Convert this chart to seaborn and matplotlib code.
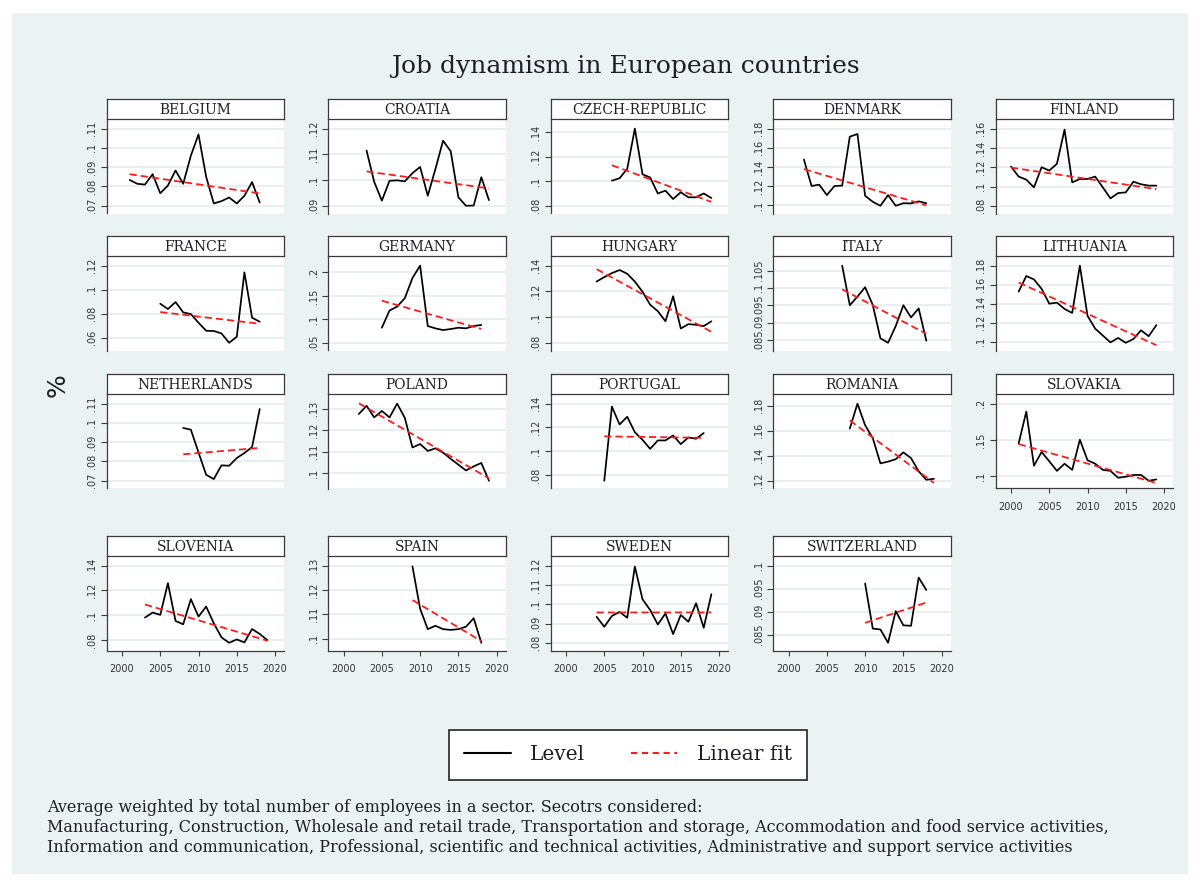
import numpy as np
import pandas as pd
import matplotlib
matplotlib.use("Agg")
import matplotlib.pyplot as plt
from matplotlib.patches import Rectangle
from matplotlib.lines import Line2D
import seaborn as sns

# ---------------------------------------------------------------- data
countries = ["BELGIUM", "CROATIA", "CZECH-REPUBLIC", "DENMARK", "FINLAND",
             "FRANCE", "GERMANY", "HUNGARY", "ITALY", "LITHUANIA",
             "NETHERLANDS", "POLAND", "PORTUGAL", "ROMANIA", "SLOVAKIA",
             "SLOVENIA", "SPAIN", "SWEDEN", "SWITZERLAND"]

first_year = [2001, 2003, 2006, 2002, 2000,
              2005, 2005, 2004, 2007, 2001,
              2008, 2002, 2005, 2008, 2001,
              2003, 2009, 2004, 2010]

belgium = [.0834, .0814, .0810, .0864, .0765, .0805, .0883, .0814, .0960, .1070,
           .0850, .0712, .0724, .0743, .0712, .0752, .0823, .0717]
croatia = [.1115, .0993, .0920, .0997, .0999, .0995, .1027, .1051, .0939, .1043,
           .1153, .1112, .0933, .0900, .0901, .1011, .0922]
czech_republic = [.1004, .1024, .1100, .1427, .1056, .1030, .0900, .0923, .0855, .0910,
                  .0869, .0869, .0900, .0863]
denmark = [.1477, .1200, .1214, .1105, .1200, .1204, .1716, .1744, .1098, .1035,
           .0993, .1105, .0993, .1020, .1018, .1039, .1020]
finland = [.1207, .1103, .1071, .0991, .1200, .1165, .1235, .1590, .1043, .1078,
           .1078, .1103, .0991, .0877, .0932, .0939, .1050, .1023, .1009, .1009]
france = [.0883, .0839, .0897, .0811, .0797, .0725, .0658, .0656, .0636, .0558,
          .0608, .1144, .0767, .0733]
germany = [.0821, .1186, .1271, .1450, .1879, .2143, .0857, .0807, .0771, .0793,
           .0821, .0807, .0857, .0879]
hungary = [.1276, .1311, .1342, .1366, .1337, .1276, .1197, .1096, .1046, .0967,
           .1162, .0911, .0945, .0940, .0930, .0967]
italy = [.1064, .0950, .0975, .1002, .0951, .0855, .0842, .0890, .0950, .0915,
         .0941, .0848]
lithuania = [.1527, .1691, .1655, .1556, .1400, .1411, .1345, .1302, .1800, .1273,
             .1138, .1065, .0993, .1040, .0989, .1029, .1120, .1058, .1175]
netherlands = [.0974, .0965, .0847, .0731, .0709, .0780, .0778, .0818, .0844, .0875,
               .1072]
poland = [.1276, .1314, .1260, .1290, .1260, .1324, .1258, .1120, .1136, .1104,
          .1116, .1096, .1067, .1040, .1013, .1032, .1048, .0965]
portugal = [.0752, .1375, .1225, .1290, .1160, .1096, .1020, .1091, .1091, .1133,
            .1060, .1116, .1105, .1153]
romania = [.1617, .1816, .1644, .1541, .1339, .1353, .1372, .1427, .1381, .1276,
           .1208, .1216]
slovakia = [.1450, .1891, .1142, .1332, .1204, .1071, .1170, .1085, .1502, .1218,
            .1170, .1085, .1071, .0976, .0990, .1014, .1014, .0934, .0953]
slovenia = [.0981, .1022, .1003, .1259, .0954, .0927, .1130, .0989, .1070, .0935,
            .0822, .0778, .0805, .0781, .0889, .0849, .0800]
spain = [.1297, .1123, .1039, .1053, .1039, .1036, .1039, .1049, .1084, .0983]
sweden = [.0935, .0883, .0939, .0960, .0930, .1195, .1026, .0970, .0895, .0952,
          .0845, .0944, .0909, .1005, .0878, .1052]
switzerland = [.0961, .0863, .0861, .0832, .0901, .0870, .0869, .0974, .0947]

series = [belgium, croatia, czech_republic, denmark, finland,
          france, germany, hungary, italy, lithuania,
          netherlands, poland, portugal, romania, slovakia,
          slovenia, spain, sweden, switzerland]

y_ticks = [[.07, .08, .09, .10, .11], [.09, .10, .11, .12], [.08, .10, .12, .14],
           [.10, .12, .14, .16, .18], [.08, .10, .12, .14, .16],
           [.06, .08, .10, .12], [.05, .10, .15, .20], [.08, .10, .12, .14],
           [.085, .09, .095, .10, .105], [.10, .12, .14, .16, .18],
           [.07, .08, .09, .10, .11], [.10, .11, .12, .13], [.08, .10, .12, .14],
           [.12, .14, .16, .18], [.10, .15, .20],
           [.08, .10, .12, .14], [.10, .11, .12, .13], [.08, .09, .10, .11, .12],
           [.085, .09, .095, .10]]

x_ticks = [2000, 2005, 2010, 2015, 2020]

title = "Job dynamism in European countries"
y_label = "%"
legend_labels = ["Level", "Linear fit"]
note_lines = [
    "Average weighted by total number of employees in a sector. Secotrs considered:",
    "Manufacturing, Construction, Wholesale and retail trade, Transportation and storage, "
    "Accommodation and food service activities,",
    "Information and communication, Professional, scientific and technical activities, "
    "Administrative and support service activities",
]

# ---------------------------------------------------------------- style
sns.set_style("white")
plt.rcParams["font.family"] = ["DejaVu Sans"]

W, H = 1200, 886
BG = "#EAF2F3"
GRID = "#E6EEF0"
AXIS = "#3c3c3c"
TEXT = "#1e1e28"
SERIF = "DejaVu Serif"

COL_LEFT = [106.7, 328.3, 550.7, 773.3, 995.7]
ROW_TOP = [119, 256, 394, 556]
PW, PH = 177.5, 94.5
STRIP = 20


def px_rect(x0, y0, w, h):
    return [x0 / W, 1 - (y0 + h) / H, w / W, h / H]


def tick_text(v):
    s = f"{v:g}"
    return s[1:] if s.startswith("0.") else s


fig = plt.figure(figsize=(W / 100, H / 100), dpi=100)
fig.patch.set_facecolor("white")
fig.add_artist(Rectangle((12 / W, 1 - 874 / H), 1176 / W, 861 / H,
                         transform=fig.transFigure, facecolor=BG,
                         edgecolor="none", zorder=-10))

n = len(countries)
for i, (name, start, vals, ticks) in enumerate(zip(countries, first_year, series, y_ticks)):
    r, c = divmod(i, 5)
    years = np.arange(start, start + len(vals))
    df = pd.DataFrame({"year": years, "value": vals})

    ax = fig.add_axes(px_rect(COL_LEFT[c], ROW_TOP[r], PW, PH))
    ax.set_facecolor("white")
    sns.lineplot(data=df, x="year", y="value", ax=ax, color="black",
                 lw=1.25, errorbar=None, estimator=None, zorder=3)
    sns.regplot(data=df, x="year", y="value", ax=ax, scatter=False, ci=None,
                truncate=True,
                line_kws=dict(color="#ff1a1a", lw=1.3, dashes=(4, 2.2), zorder=4))

    lo = min(ticks[0], min(vals))
    hi = max(ticks[-1], max(vals))
    rng = hi - lo
    ax.set_ylim(lo - 0.10 * rng, hi + 0.125 * rng)
    ax.set_xlim(1998, 2021.2)

    ax.set_yticks(ticks)
    ax.set_yticklabels([tick_text(t) for t in ticks], rotation=90, va="center",
                       fontsize=7, color="#333333")
    ax.tick_params(axis="y", length=4, width=0.8, color=AXIS, pad=3, left=True)
    ax.grid(axis="y", color=GRID, lw=1.3)
    ax.grid(axis="x", visible=False)
    ax.set_axisbelow(True)
    ax.set_xlabel("")
    ax.set_ylabel("")
    for s in ("top", "right"):
        ax.spines[s].set_visible(False)
    ax.spines["left"].set_color(AXIS)
    ax.spines["left"].set_linewidth(0.9)

    if i + 5 >= n:
        ax.spines["bottom"].set_color(AXIS)
        ax.spines["bottom"].set_linewidth(0.9)
        ax.set_xticks(x_ticks)
        ax.set_xticklabels([str(t) for t in x_ticks], fontsize=7, color="#333333")
        ax.tick_params(axis="x", length=3.5, width=0.8, color=AXIS, pad=6.5, bottom=True)
    else:
        ax.spines["bottom"].set_visible(False)
        ax.set_xticks([])

    sax = fig.add_axes(px_rect(COL_LEFT[c], ROW_TOP[r] - STRIP, PW, STRIP))
    sax.set_facecolor("white")
    sax.set_xticks([])
    sax.set_yticks([])
    for s in sax.spines.values():
        s.set_visible(True)
        s.set_color("#3a3a3a")
        s.set_linewidth(0.9)
    sax.text(0.5, 0.47, name, ha="center", va="center", family=SERIF,
             fontsize=10, color=TEXT, transform=sax.transAxes)

fig.text(625 / W, 1 - 66 / H, title, ha="center", va="center", family=SERIF,
         fontsize=18, color=TEXT)
fig.text(58 / W, 1 - 385 / H, y_label, ha="center", va="center", rotation=90,
         fontsize=18, color=TEXT)

handles = [Line2D([], [], color="black", lw=1.5),
           Line2D([], [], color="#ff1a1a", lw=1.5, dashes=(3, 2.2))]
leg = fig.legend(handles, legend_labels, loc="center",
                 bbox_to_anchor=(628 / W, 1 - 755 / H), ncol=2, frameon=True,
                 fancybox=False, framealpha=1, facecolor="white",
                 prop=dict(family=SERIF, size=14.5),
                 handlelength=2.3, handletextpad=0.95, columnspacing=2.3,
                 borderpad=0.75, borderaxespad=0)
leg.get_frame().set_edgecolor("#222222")
leg.get_frame().set_linewidth(1.2)
for t in leg.get_texts():
    t.set_color(TEXT)

for k, line in enumerate(note_lines):
    fig.text(47 / W, 1 - (808 + 20 * k) / H, line, ha="left", va="center",
             family=SERIF, fontsize=11.5, color=TEXT)

fig.savefig("out.png", dpi=100, facecolor=fig.get_facecolor())
